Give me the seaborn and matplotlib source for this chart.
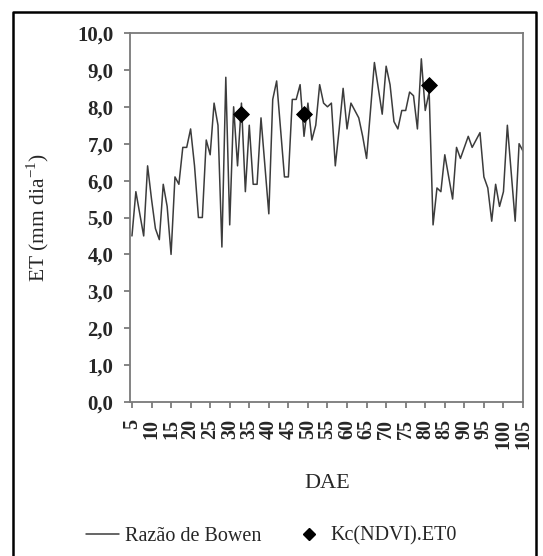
import numpy as np
import pandas as pd
import seaborn as sns
import matplotlib.pyplot as plt
from matplotlib.lines import Line2D

# DAE (dias apos emergencia) e ET pela razao de Bowen
dae = np.arange(5, 106)
et_bowen = [4.5, 5.7, 5.1, 4.5, 6.4, 5.5, 4.7, 4.4, 5.9, 5.3,
            4.0, 6.1, 5.9, 6.9, 6.9, 7.4, 6.4, 5.0, 5.0, 7.1,
            6.7, 8.1, 7.5, 4.2, 8.8, 4.8, 8.0, 6.4, 8.1, 5.7,
            7.5, 5.9, 5.9, 7.7, 6.4, 5.1, 8.2, 8.7, 7.4, 6.1,
            6.1, 8.2, 8.2, 8.6, 7.2, 8.1, 7.1, 7.5, 8.6, 8.1,
            8.0, 8.1, 6.4, 7.4, 8.5, 7.4, 8.1, 7.9, 7.7, 7.2,
            6.6, 7.9, 9.2, 8.5, 7.8, 9.1, 8.6, 7.6, 7.4, 7.9,
            7.9, 8.4, 8.3, 7.4, 9.3, 7.9, 8.4, 4.8, 5.8, 5.7,
            6.7, 6.1, 5.5, 6.9, 6.6, 6.9, 7.2, 6.9, 7.1, 7.3,
            6.1, 5.8, 4.9, 5.9, 5.3, 5.7, 7.5, 6.2, 4.9, 7.0,
            6.8]
kc_dae = [33, 49, 81]
kc_et = [7.8, 7.8, 8.6]

xticks = list(range(5, 106, 5))
yticks = np.arange(0, 11, 1)

sns.set_style("ticks")
plt.rcParams['font.family'] = ['Liberation Serif', 'DejaVu Serif']
plt.rcParams['mathtext.fontset'] = 'custom'
plt.rcParams['mathtext.rm'] = 'Liberation Serif'

df = pd.DataFrame({"DAE": dae, "ET": et_bowen})
kc = pd.DataFrame({"DAE": kc_dae, "ET": kc_et})

fig = plt.figure(figsize=(5.43, 5.56), dpi=100)
ax = fig.add_axes([130 / 543, 1 - 402 / 556, 393 / 543, 369 / 556])

sns.lineplot(data=df, x="DAE", y="ET", color="#3c3c3c", lw=1.1, ax=ax)
sns.scatterplot(data=kc, x="DAE", y="ET", marker="D", s=65, color="black",
                edgecolor="black", zorder=5, ax=ax)

ax.set_xlim(4.5, 105)
ax.set_ylim(0, 10)
ax.set_xticks(xticks)
ax.set_xticklabels([str(t) for t in xticks], rotation=90, fontsize=14.5, fontweight="bold")
ax.set_yticks(yticks)
ax.set_yticklabels([f"{t:.1f}".replace(".", ",") for t in yticks], fontsize=15, fontweight="bold")
ax.tick_params(direction="out", length=4, width=1.2, color="#707070")
ax.tick_params(axis="x", pad=8)
ax.tick_params(axis="y", pad=8)

for s in ax.spines.values():
    s.set_visible(True)
    s.set_color("#7a7a7a")
    s.set_linewidth(1.3)

ax.set_xlabel("DAE", fontsize=16)
ax.set_ylabel(r"ET (mm dia$^{-1}$)", fontsize=15.5)
ax.xaxis.set_label_coords(0.501, -0.196)
ax.yaxis.set_label_coords(-0.202, 0.5)

handles = [Line2D([], [], color="#3c3c3c", lw=1.1),
           Line2D([], [], color="black", marker="D", ls="none", markersize=6)]
fig.legend(handles, ["Razão de Bowen", "Kc(NDVI).ET0"], loc="center",
           bbox_to_anchor=(0.5, 1 - 536 / 556), ncol=2, frameon=False,
           fontsize=14.5, handlelength=1.65, handletextpad=0.25, columnspacing=1.55)

# moldura externa do grafico
fig.add_artist(Line2D([13 / 543, 13 / 543, 536 / 543, 536 / 543],
                      [-0.01, 1 - 12 / 556, 1 - 12 / 556, -0.01],
                      transform=fig.transFigure, color="black", lw=1.8))

fig.savefig("out.png", dpi=100)
